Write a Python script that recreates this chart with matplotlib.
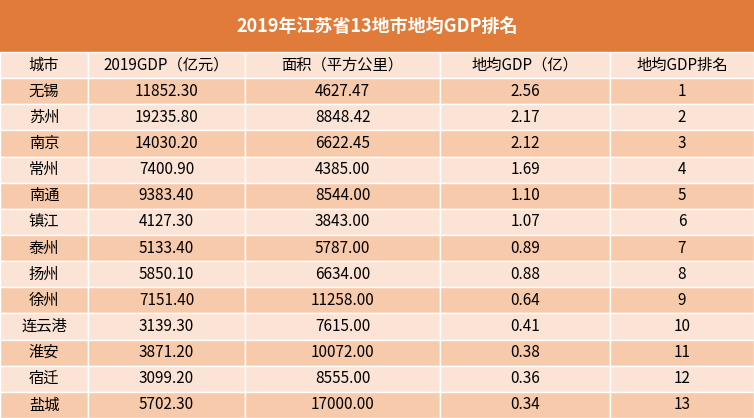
import matplotlib.pyplot as plt
from matplotlib import font_manager
from matplotlib.patches import Rectangle

# pick whatever CJK family is actually registered
cjk = [f.name for f in font_manager.fontManager.ttflist if 'CJK' in f.name]
cjk = sorted(set(cjk), key=lambda n: ('SC' not in n, n))
plt.rcParams['font.family'] = 'sans-serif'
plt.rcParams['font.sans-serif'] = cjk + ['DejaVu Sans']

title = '2019年江苏省13地市地均GDP排名'
headers = ['城市', '2019GDP（亿元）', '面积（平方公里）', '地均GDP（亿）', '地均GDP排名']
cities = ['无锡', '苏州', '南京', '常州', '南通', '镇江', '泰州', '扬州', '徐州', '连云港', '淮安', '宿迁', '盐城']
gdp = [11852.30, 19235.80, 14030.20, 7400.90, 9383.40, 4127.30, 5133.40, 5850.10, 7151.40, 3139.30, 3871.20, 3099.20, 5702.30]
area = [4627.47, 8848.42, 6622.45, 4385.00, 8544.00, 3843.00, 5787.00, 6634.00, 11258.00, 7615.00, 10072.00, 8555.00, 17000.00]
density = [2.56, 2.17, 2.12, 1.69, 1.10, 1.07, 0.89, 0.88, 0.64, 0.41, 0.38, 0.36, 0.34]
rank = list(range(1, 14))

W, H = 754, 418
fig = plt.figure(figsize=(W / 100, H / 100), dpi=100)
ax = fig.add_axes([0, 0, 1, 1])
ax.set_xlim(0, W)
ax.set_ylim(H, 0)
ax.axis('off')

col_edges = [0, 88, 245, 440, 610, W]
title_h = 52
row_h = (H - title_h) / 14

ax.add_patch(Rectangle((0, 0), W, title_h, color='#E07B39'))
ax.text(W / 2, title_h / 2, title, ha='center', va='center', color='white',
        fontsize=13, fontweight='bold')

rows = [headers] + [[c, f'{g:.2f}', f'{a:.2f}', f'{d:.2f}', str(r)]
                    for c, g, a, d, r in zip(cities, gdp, area, density, rank)]
for i, row in enumerate(rows):
    y0 = title_h + i * row_h
    color = '#FBE4D5' if i % 2 == 0 else '#F7CAAC'
    for j, val in enumerate(row):
        x0, x1 = col_edges[j], col_edges[j + 1]
        ax.add_patch(Rectangle((x0, y0), x1 - x0, row_h, facecolor=color,
                               edgecolor='white', linewidth=1))
        ax.text((x0 + x1) / 2, y0 + row_h / 2, val, ha='center', va='center',
                fontsize=11, color='black')

fig.savefig('out.png', dpi=100)
